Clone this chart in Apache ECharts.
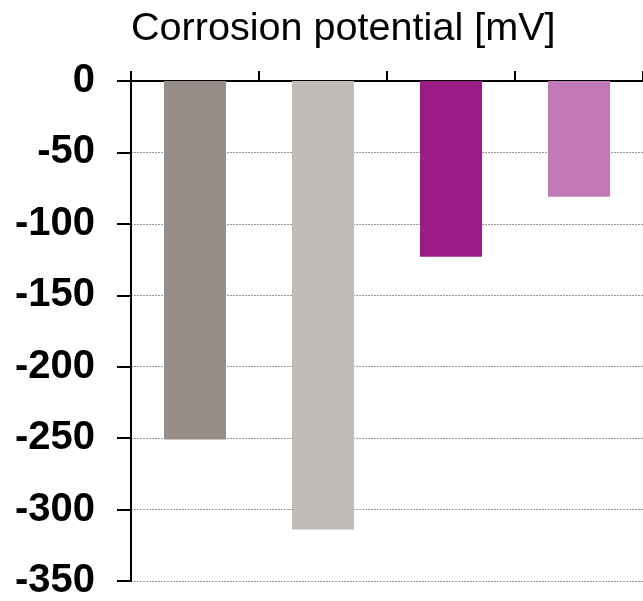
<!DOCTYPE html>
<html>
<head>
<meta charset="utf-8">
<script src="https://cdn.jsdelivr.net/npm/echarts@6/dist/echarts.min.js"></script>
<style>
html,body{margin:0;padding:0;background:#fff;}
#chart{width:643px;height:601px;}
</style>
</head>
<body>
<div id="chart"></div>
<script>
var titleText = "Corrosion potential [mV]";
var categories = ["A", "B", "C", "D"];
var values = [-251, -314, -123, -81];
var barColors = ["#978e87", "#c0bdb8", "#9b1c85", "#c27ab6"];
var yTicks = [0, -50, -100, -150, -200, -250, -300, -350];

var chart = echarts.init(document.getElementById('chart'), null, {renderer: 'canvas'});
var font = "'Liberation Sans', Arial, Helvetica, sans-serif";
chart.setOption({
  animation: false,
  backgroundColor: '#ffffff',
  title: {
    text: titleText,
    left: 131,
    top: 9,
    padding: 0,
    textStyle: {fontFamily: font, fontSize: 39.6, fontWeight: 'normal', color: '#000'}
  },
  grid: {left: 131, top: 81, right: -3, bottom: 15, containLabel: false},
  xAxis: {
    type: 'category',
    position: 'top',
    data: categories,
    axisLine: {show: true, lineStyle: {color: '#000', width: 2}},
    axisTick: {show: true, inside: false, length: 10, lineStyle: {color: '#000', width: 2}},
    axisLabel: {show: false},
    splitLine: {show: false}
  },
  yAxis: {
    type: 'value',
    min: -350,
    max: 0,
    interval: 50,
    axisLine: {show: true, lineStyle: {color: '#000', width: 2}},
    axisTick: {show: true, inside: false, length: 14, lineStyle: {color: '#000', width: 2}},
    axisLabel: {
      show: true, margin: 36, fontFamily: font, fontSize: 40, fontWeight: 'bold', color: '#000',
      formatter: function (v) { return yTicks.indexOf(v) >= 0 ? String(v) : ''; }
    },
    splitLine: {show: true, lineStyle: {color: '#999', width: 1, type: [2, 1]}}
  },
  series: [{
    type: 'bar',
    barWidth: 62,
    data: values.map(function (v, i) { return {value: v, itemStyle: {color: barColors[i]}}; })
  }]
});
</script>
</body>
</html>
